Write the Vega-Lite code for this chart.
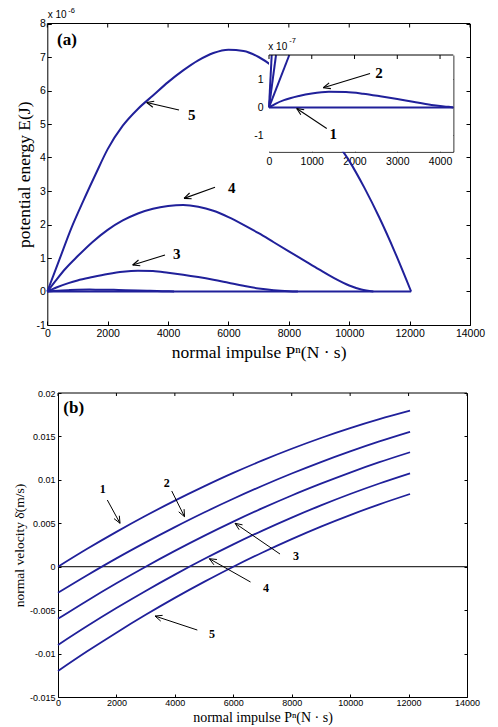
{
"$schema":"https://vega.github.io/schema/vega-lite/v6.json",
"width":498,"height":727,"autosize":"none","padding":0,
"config":{"view":{"stroke":null},
"axis":{"grid":false,"domainColor":"black","tickColor":"black","labelColor":"black","titleColor":"black","labelFont":"Liberation Sans","titleFont":"Liberation Serif","titleFontWeight":"normal","labelFlush":false,"labelOverlap":false,"zindex":1,"tickSize":-4,"labelPadding":7,"domainWidth":1,"tickWidth":1}},
"datasets":{
"topE":[
{"c":"5","P":0,"E":0},{"c":"5","P":400,"E":0.95},{"c":"5","P":800,"E":1.9},{"c":"5","P":1200,"E":2.72},{"c":"5","P":1600,"E":3.5},{"c":"5","P":2000,"E":4.25},{"c":"5","P":2500,"E":4.95},{"c":"5","P":3000,"E":5.45},{"c":"5","P":3500,"E":5.85},{"c":"5","P":4000,"E":6.25},{"c":"5","P":4500,"E":6.6},{"c":"5","P":5000,"E":6.9},{"c":"5","P":5500,"E":7.12},{"c":"5","P":6000,"E":7.22},{"c":"5","P":6500,"E":7.18},{"c":"5","P":7000,"E":7.0},{"c":"5","P":7500,"E":6.7},{"c":"5","P":8000,"E":6.3},{"c":"5","P":8500,"E":5.8},{"c":"5","P":9000,"E":5.2},{"c":"5","P":9500,"E":4.55},{"c":"5","P":10000,"E":3.9},{"c":"5","P":10500,"E":3.1},{"c":"5","P":11000,"E":2.2},{"c":"5","P":11500,"E":1.2},{"c":"5","P":12050,"E":0},
{"c":"4","P":0,"E":0},{"c":"4","P":300,"E":0.35},{"c":"4","P":600,"E":0.68},{"c":"4","P":1000,"E":1.05},{"c":"4","P":1500,"E":1.48},{"c":"4","P":2000,"E":1.84},{"c":"4","P":2500,"E":2.12},{"c":"4","P":3000,"E":2.33},{"c":"4","P":3500,"E":2.47},{"c":"4","P":4000,"E":2.55},{"c":"4","P":4500,"E":2.58},{"c":"4","P":5000,"E":2.53},{"c":"4","P":5500,"E":2.41},{"c":"4","P":6000,"E":2.22},{"c":"4","P":6500,"E":1.99},{"c":"4","P":7000,"E":1.74},{"c":"4","P":7500,"E":1.47},{"c":"4","P":8000,"E":1.2},{"c":"4","P":8500,"E":0.93},{"c":"4","P":9000,"E":0.66},{"c":"4","P":9500,"E":0.4},{"c":"4","P":10000,"E":0.18},{"c":"4","P":10400,"E":0.06},{"c":"4","P":10800,"E":0},
{"c":"3","P":0,"E":0},{"c":"3","P":300,"E":0.12},{"c":"3","P":700,"E":0.25},{"c":"3","P":1000,"E":0.33},{"c":"3","P":1500,"E":0.43},{"c":"3","P":2000,"E":0.52},{"c":"3","P":2500,"E":0.59},{"c":"3","P":3000,"E":0.62},{"c":"3","P":3500,"E":0.61},{"c":"3","P":4000,"E":0.56},{"c":"3","P":4500,"E":0.5},{"c":"3","P":5000,"E":0.43},{"c":"3","P":5500,"E":0.35},{"c":"3","P":6000,"E":0.26},{"c":"3","P":6500,"E":0.17},{"c":"3","P":7000,"E":0.09},{"c":"3","P":7500,"E":0.04},{"c":"3","P":8000,"E":0.01},{"c":"3","P":8300,"E":0},
{"c":"2","P":0,"E":0},{"c":"2","P":350,"E":0.026},{"c":"2","P":700,"E":0.041},{"c":"2","P":1000,"E":0.05},{"c":"2","P":1400,"E":0.056},{"c":"2","P":1800,"E":0.055},{"c":"2","P":2200,"E":0.049},{"c":"2","P":2600,"E":0.04},{"c":"2","P":3000,"E":0.03},{"c":"2","P":3400,"E":0.019},{"c":"2","P":3800,"E":0.009},{"c":"2","P":4200,"E":0.002},
{"c":"1","P":0,"E":0},{"c":"1","P":12050,"E":0}],
"topArrows":[
{"x":4362,"y":5.42,"x2":3293,"y2":5.64},{"x":3541,"y":5.68,"x2":3293,"y2":5.64},{"x":3495,"y":5.50,"x2":3293,"y2":5.64},
{"x":5555,"y":3.11,"x2":4529,"y2":2.78},{"x":4780,"y":2.77,"x2":4529,"y2":2.78},{"x":4713,"y":2.94,"x2":4529,"y2":2.78},
{"x":3898,"y":1.09,"x2":2829,"y2":0.79},{"x":3080,"y":0.77,"x2":2829,"y2":0.79},{"x":3021,"y":0.94,"x2":2829,"y2":0.79}],
"topNums":[{"P":4783,"E":5.27,"t":"5"},{"P":6108,"E":3.08,"t":"4"},{"P":4286,"E":1.12,"t":"3"}],
"panelA":[{"P":321,"E":7.36,"t":"(a)"}],
"topExpBase":[{"P":13,"E":8.155,"t":"x 10"}],
"topExpSup":[{"P":696,"E":8.32,"t":"-6"}],
"topFrame":[{"x":0,"x2":14000,"y":8}],
"topTicks":[{"x":0,"y":8},{"x":2000,"y":8},{"x":4000,"y":8},{"x":6000,"y":8},{"x":8000,"y":8},{"x":10000,"y":8},{"x":12000,"y":8},{"x":14000,"y":8}],
"insetBox":[{"x":0,"x2":4310,"y":-1.58,"y2":1.87}],
"insetFrame":[{"x":0,"x2":4310,"y":1.87}],
"insetTicks":[{"x":0,"y":1.87},{"x":1000,"y":1.87},{"x":2000,"y":1.87},{"x":3000,"y":1.87},{"x":4000,"y":1.87}],
"insetE":[
{"c":"1","P":0,"E":0},{"c":"1","P":4310,"E":0},
{"c":"2","P":0,"E":0},{"c":"2","P":150,"E":0.13},{"c":"2","P":350,"E":0.26},{"c":"2","P":700,"E":0.41},{"c":"2","P":1000,"E":0.5},{"c":"2","P":1400,"E":0.56},{"c":"2","P":1800,"E":0.55},{"c":"2","P":2200,"E":0.49},{"c":"2","P":2600,"E":0.4},{"c":"2","P":3000,"E":0.3},{"c":"2","P":3400,"E":0.19},{"c":"2","P":3800,"E":0.09},{"c":"2","P":4200,"E":0.02},{"c":"2","P":4310,"E":0},
{"c":"3","P":0,"E":0},{"c":"3","P":475,"E":1.87},
{"c":"4","P":0,"E":0},{"c":"4","P":164,"E":1.87},
{"c":"5","P":0,"E":0},{"c":"5","P":63,"E":1.87}],
"insetArrows":[
{"x":2363,"y":1.21,"x2":1270,"y2":0.70},{"x":1448,"y":0.67,"x2":1270,"y2":0.70},{"x":1406,"y":0.875,"x2":1270,"y2":0.70},
{"x":1350,"y":-0.75,"x2":648,"y2":-0.036},{"x":823,"y":-0.086,"x2":648,"y2":-0.036},{"x":744,"y":-0.264,"x2":648,"y2":-0.036}],
"insetNums":[{"P":2573,"E":1.21,"t":"2"},{"P":1504,"E":-0.96,"t":"1"}],
"insetExpBase":[{"P":-16,"E":2.05,"t":"x 10"}],
"insetExpSup":[{"P":475,"E":2.31,"t":"-7"}],
"botV":[
{"c":"1","P":0,"v":0},{"c":"1","P":1000,"v":0.00206},{"c":"1","P":2000,"v":0.00401},{"c":"1","P":3000,"v":0.00586},{"c":"1","P":4000,"v":0.00761},{"c":"1","P":5000,"v":0.00925},{"c":"1","P":6000,"v":0.0108},{"c":"1","P":7000,"v":0.01224},{"c":"1","P":8000,"v":0.01358},{"c":"1","P":9000,"v":0.01482},{"c":"1","P":10000,"v":0.01595},{"c":"1","P":11000,"v":0.01698},{"c":"1","P":12050,"v":0.01796},
{"c":"2","P":0,"v":-0.003},{"c":"2","P":1000,"v":-0.00098},{"c":"2","P":2000,"v":0.00096},{"c":"2","P":3000,"v":0.0028},{"c":"2","P":4000,"v":0.00456},{"c":"2","P":5000,"v":0.00624},{"c":"2","P":6000,"v":0.00782},{"c":"2","P":7000,"v":0.00932},{"c":"2","P":8000,"v":0.01073},{"c":"2","P":9000,"v":0.01205},{"c":"2","P":10000,"v":0.01328},{"c":"2","P":11000,"v":0.01443},{"c":"2","P":12050,"v":0.01554},
{"c":"3","P":0,"v":-0.006},{"c":"3","P":1000,"v":-0.00391},{"c":"3","P":2000,"v":-0.00191},{"c":"3","P":3000,"v":0},{"c":"3","P":4000,"v":0.00182},{"c":"3","P":5000,"v":0.00355},{"c":"3","P":6000,"v":0.00519},{"c":"3","P":7000,"v":0.00674},{"c":"3","P":8000,"v":0.0082},{"c":"3","P":9000,"v":0.00956},{"c":"3","P":10000,"v":0.01084},{"c":"3","P":11000,"v":0.01203},{"c":"3","P":12050,"v":0.01318},
{"c":"4","P":0,"v":-0.009},{"c":"4","P":1000,"v":-0.00683},{"c":"4","P":2000,"v":-0.00476},{"c":"4","P":3000,"v":-0.00279},{"c":"4","P":4000,"v":-0.00091},{"c":"4","P":5000,"v":0.00088},{"c":"4","P":6000,"v":0.00257},{"c":"4","P":7000,"v":0.00416},{"c":"4","P":8000,"v":0.00566},{"c":"4","P":9000,"v":0.00706},{"c":"4","P":10000,"v":0.00837},{"c":"4","P":11000,"v":0.00958},{"c":"4","P":12050,"v":0.01075},
{"c":"5","P":0,"v":-0.012},{"c":"5","P":1000,"v":-0.00974},{"c":"5","P":2000,"v":-0.00759},{"c":"5","P":3000,"v":-0.00554},{"c":"5","P":4000,"v":-0.00359},{"c":"5","P":5000,"v":-0.00175},{"c":"5","P":6000,"v":0},{"c":"5","P":7000,"v":0.00164},{"c":"5","P":8000,"v":0.00318},{"c":"5","P":9000,"v":0.00462},{"c":"5","P":10000,"v":0.00595},{"c":"5","P":11000,"v":0.00718},{"c":"5","P":12050,"v":0.00837}],
"botZero":[{"x":0,"x2":14000,"y":0,"y2":0}],
"botFrame":[{"x":0,"x2":14000,"y":0.02}],
"botTicks":[{"x":0,"y":0.02},{"x":2000,"y":0.02},{"x":4000,"y":0.02},{"x":6000,"y":0.02},{"x":8000,"y":0.02},{"x":10000,"y":0.02},{"x":12000,"y":0.02},{"x":14000,"y":0.02}],
"botArrows":[
{"x":1688,"y":0.00768,"x2":2123,"y2":0.0050},{"x":2099,"y":0.00587,"x2":2123,"y2":0.0050},{"x":1917,"y":0.00554,"x2":2123,"y2":0.0050},
{"x":3893,"y":0.00872,"x2":4331,"y2":0.00576},{"x":4316,"y":0.00663,"x2":4331,"y2":0.00576},{"x":4132,"y":0.00632,"x2":4331,"y2":0.00576},
{"x":7600,"y":0.00146,"x2":6060,"y2":0.0050},{"x":6316,"y":0.00482,"x2":6060,"y2":0.0050},{"x":6200,"y":0.00426,"x2":6060,"y2":0.0050},
{"x":6590,"y":-0.00176,"x2":5180,"y2":0.00092},{"x":5440,"y":0.00083,"x2":5180,"y2":0.00092},{"x":5337,"y":0.00022,"x2":5180,"y2":0.00092},
{"x":4769,"y":-0.00729,"x2":3321,"y2":-0.00568},{"x":3581,"y":-0.0056,"x2":3321,"y2":-0.00568},{"x":3516,"y":-0.00626,"x2":3321,"y2":-0.00568}],
"botNums":[{"P":1530,"v":0.00891,"t":"1"},{"P":3721,"v":0.0096,"t":"2"},{"P":8148,"v":0.00123,"t":"3"},{"P":7121,"v":-0.00249,"t":"4"},{"P":5272,"v":-0.00778,"t":"5"}],
"panelB":[{"P":181,"v":0.0177,"t":"(b)"}]
},
"layer":[
 {"data":{"name":"topE"},"mark":{"type":"line","color":"#20209a","strokeWidth":2,"interpolate":"monotone"},
  "encoding":{"x":{"field":"P","type":"quantitative","scale":{"domain":[0,14000],"range":[47.3,470],"nice":false,"zero":false},
    "axis":{"orient":"bottom","offset":-402,"values":[0,2000,4000,6000,8000,10000,12000,14000],"labelExpr":"replace(format(datum.value, '~g'), '−', '-')","labelFontSize":10.5,"title":"normal impulse Pⁿ(N · s)","titleFontSize":17.5,"titlePadding":5}},
   "y":{"field":"E","type":"quantitative","scale":{"domain":[-1,8],"range":[325,23.5],"nice":false,"zero":false},
    "axis":{"orient":"left","offset":-47.3,"values":[-1,0,1,2,3,4,5,6,7,8],"labelExpr":"replace(format(datum.value, '~g'), '−', '-')","labelFontSize":10.5,"labelPadding":6,"title":"potential energy E(J)","titleFontSize":17.5,"titlePadding":2}},
   "detail":{"field":"c"}}},
 {"data":{"name":"topArrows"},"mark":{"type":"rule","color":"black","strokeWidth":1.1},
  "encoding":{"x":{"field":"x","type":"quantitative","scale":{"domain":[0,14000],"range":[47.3,470],"nice":false,"zero":false},"axis":null},
   "y":{"field":"y","type":"quantitative","scale":{"domain":[-1,8],"range":[325,23.5],"nice":false,"zero":false},"axis":null},
   "x2":{"field":"x2"},"y2":{"field":"y2"}}},
 {"data":{"name":"topNums"},"mark":{"type":"text","font":"Liberation Serif","fontWeight":"bold","fontSize":15,"color":"black"},
  "encoding":{"x":{"field":"P","type":"quantitative","scale":{"domain":[0,14000],"range":[47.3,470],"nice":false,"zero":false},"axis":null},
   "y":{"field":"E","type":"quantitative","scale":{"domain":[-1,8],"range":[325,23.5],"nice":false,"zero":false},"axis":null},
   "text":{"field":"t"}}},
 {"data":{"name":"panelA"},"mark":{"type":"text","font":"Liberation Serif","fontWeight":"bold","fontSize":17,"color":"black","align":"left","baseline":"alphabetic"},
  "encoding":{"x":{"field":"P","type":"quantitative","scale":{"domain":[0,14000],"range":[47.3,470],"nice":false,"zero":false},"axis":null},
   "y":{"field":"E","type":"quantitative","scale":{"domain":[-1,8],"range":[325,23.5],"nice":false,"zero":false},"axis":null},
   "text":{"field":"t"}}},
 {"data":{"name":"topExpBase"},"mark":{"type":"text","font":"Liberation Sans","fontSize":10,"color":"black","align":"left","baseline":"alphabetic"},
  "encoding":{"x":{"field":"P","type":"quantitative","scale":{"domain":[0,14000],"range":[47.3,470],"nice":false,"zero":false},"axis":null},
   "y":{"field":"E","type":"quantitative","scale":{"domain":[-1,8],"range":[325,23.5],"nice":false,"zero":false},"axis":null},
   "text":{"field":"t"}}},
 {"data":{"name":"topExpSup"},"mark":{"type":"text","font":"Liberation Sans","fontSize":7.5,"color":"black","align":"left","baseline":"alphabetic"},
  "encoding":{"x":{"field":"P","type":"quantitative","scale":{"domain":[0,14000],"range":[47.3,470],"nice":false,"zero":false},"axis":null},
   "y":{"field":"E","type":"quantitative","scale":{"domain":[-1,8],"range":[325,23.5],"nice":false,"zero":false},"axis":null},
   "text":{"field":"t"}}},
 {"data":{"name":"topFrame"},"mark":{"type":"rule","color":"black","strokeWidth":1},
  "encoding":{"x":{"field":"x","type":"quantitative","scale":{"domain":[0,14000],"range":[47.3,470],"nice":false,"zero":false},"axis":null},
   "y":{"field":"y","type":"quantitative","scale":{"domain":[-1,8],"range":[325,23.5],"nice":false,"zero":false},"axis":null},
   "x2":{"field":"x2"}}},
 {"data":{"name":"topTicks"},"mark":{"type":"tick","orient":"vertical","size":4,"thickness":1,"color":"black","opacity":1,"yOffset":2},
  "encoding":{"x":{"field":"x","type":"quantitative","scale":{"domain":[0,14000],"range":[47.3,470],"nice":false,"zero":false},"axis":null},
   "y":{"field":"y","type":"quantitative","scale":{"domain":[-1,8],"range":[325,23.5],"nice":false,"zero":false},
    "axis":{"orient":"right","offset":-28,"values":[-1,0,1,2,3,4,5,6,7,8],"labels":false,"title":null}}}},
 {"data":{"name":"insetBox"},"mark":{"type":"rect","color":"white","opacity":1},
  "encoding":{"x":{"field":"x","type":"quantitative","scale":{"domain":[0,4310],"range":[269,453.3],"nice":false,"zero":false},
    "axis":{"orient":"bottom","offset":-575.3,"values":[0,1000,2000,3000,4000],"labelExpr":"replace(format(datum.value, '~g'), '−', '-')","labelFontSize":10.5,"labelPadding":9,"title":null}},
   "y":{"field":"y","type":"quantitative","scale":{"domain":[-1.58,1.87],"range":[151.7,55],"nice":false,"zero":false},
    "axis":{"orient":"left","offset":-269,"values":[-1,0,1],"labelExpr":"replace(format(datum.value, '~g'), '−', '-')","labelFontSize":10.5,"labelPadding":10,"title":null}},
   "x2":{"field":"x2"},"y2":{"field":"y2"}}},
 {"data":{"name":"insetE"},"mark":{"type":"line","color":"#20209a","strokeWidth":2,"interpolate":"monotone"},
  "encoding":{"x":{"field":"P","type":"quantitative","scale":{"domain":[0,4310],"range":[269,453.3],"nice":false,"zero":false},"axis":null},
   "y":{"field":"E","type":"quantitative","scale":{"domain":[-1.58,1.87],"range":[151.7,55],"nice":false,"zero":false},"axis":null},
   "detail":{"field":"c"}}},
 {"data":{"name":"insetArrows"},"mark":{"type":"rule","color":"black","strokeWidth":1.1},
  "encoding":{"x":{"field":"x","type":"quantitative","scale":{"domain":[0,4310],"range":[269,453.3],"nice":false,"zero":false},"axis":null},
   "y":{"field":"y","type":"quantitative","scale":{"domain":[-1.58,1.87],"range":[151.7,55],"nice":false,"zero":false},"axis":null},
   "x2":{"field":"x2"},"y2":{"field":"y2"}}},
 {"data":{"name":"insetNums"},"mark":{"type":"text","font":"Liberation Serif","fontWeight":"bold","fontSize":15,"color":"black"},
  "encoding":{"x":{"field":"P","type":"quantitative","scale":{"domain":[0,4310],"range":[269,453.3],"nice":false,"zero":false},"axis":null},
   "y":{"field":"E","type":"quantitative","scale":{"domain":[-1.58,1.87],"range":[151.7,55],"nice":false,"zero":false},"axis":null},
   "text":{"field":"t"}}},
 {"data":{"name":"insetExpBase"},"mark":{"type":"text","font":"Liberation Sans","fontSize":10,"color":"black","align":"left","baseline":"alphabetic"},
  "encoding":{"x":{"field":"P","type":"quantitative","scale":{"domain":[0,4310],"range":[269,453.3],"nice":false,"zero":false},"axis":null},
   "y":{"field":"E","type":"quantitative","scale":{"domain":[-1.58,1.87],"range":[151.7,55],"nice":false,"zero":false},"axis":null},
   "text":{"field":"t"}}},
 {"data":{"name":"insetExpSup"},"mark":{"type":"text","font":"Liberation Sans","fontSize":7.5,"color":"black","align":"left","baseline":"alphabetic"},
  "encoding":{"x":{"field":"P","type":"quantitative","scale":{"domain":[0,4310],"range":[269,453.3],"nice":false,"zero":false},"axis":null},
   "y":{"field":"E","type":"quantitative","scale":{"domain":[-1.58,1.87],"range":[151.7,55],"nice":false,"zero":false},"axis":null},
   "text":{"field":"t"}}},
 {"data":{"name":"insetFrame"},"mark":{"type":"rule","color":"black","strokeWidth":1},
  "encoding":{"x":{"field":"x","type":"quantitative","scale":{"domain":[0,4310],"range":[269,453.3],"nice":false,"zero":false},"axis":null},
   "y":{"field":"y","type":"quantitative","scale":{"domain":[-1.58,1.87],"range":[151.7,55],"nice":false,"zero":false},"axis":null},
   "x2":{"field":"x2"}}},
 {"data":{"name":"insetTicks"},"mark":{"type":"tick","orient":"vertical","size":4,"thickness":1,"color":"black","opacity":1,"yOffset":2},
  "encoding":{"x":{"field":"x","type":"quantitative","scale":{"domain":[0,4310],"range":[269,453.3],"nice":false,"zero":false},"axis":null},
   "y":{"field":"y","type":"quantitative","scale":{"domain":[-1.58,1.87],"range":[151.7,55],"nice":false,"zero":false},
    "axis":{"orient":"right","offset":-44.7,"values":[-1,0,1],"labels":false,"title":null}}}},
 {"data":{"name":"botZero"},"mark":{"type":"rule","color":"black","strokeWidth":1},
  "encoding":{"x":{"field":"x","type":"quantitative","scale":{"domain":[0,14000],"range":[58,467],"nice":false,"zero":false},
    "axis":{"orient":"bottom","offset":-30,"values":[0,2000,4000,6000,8000,10000,12000,14000],"labelExpr":"replace(format(datum.value, '~g'), '−', '-')","labelFontSize":9,"tickSize":-3,"labelPadding":4,"title":"normal impulse Pⁿ(N · s)","titleFontSize":14,"titlePadding":3}},
   "y":{"field":"y","type":"quantitative","scale":{"domain":[-0.015,0.02],"range":[697,393],"nice":false,"zero":false},
    "axis":{"orient":"left","offset":-58,"values":[-0.015,-0.01,-0.005,0,0.005,0.01,0.015,0.02],"labelExpr":"replace(format(datum.value, '~g'), '−', '-')","labelFontSize":9,"tickSize":-3,"labelPadding":6,"title":"normal velocity δ̇(m/s)","titleFontSize":13.5,"titlePadding":3}},
   "x2":{"field":"x2"},"y2":{"field":"y2"}}},
 {"data":{"name":"botV"},"mark":{"type":"line","color":"#20209a","strokeWidth":1.8,"interpolate":"monotone"},
  "encoding":{"x":{"field":"P","type":"quantitative","scale":{"domain":[0,14000],"range":[58,467],"nice":false,"zero":false},"axis":null},
   "y":{"field":"v","type":"quantitative","scale":{"domain":[-0.015,0.02],"range":[697,393],"nice":false,"zero":false},"axis":null},
   "detail":{"field":"c"}}},
 {"data":{"name":"botArrows"},"mark":{"type":"rule","color":"black","strokeWidth":1},
  "encoding":{"x":{"field":"x","type":"quantitative","scale":{"domain":[0,14000],"range":[58,467],"nice":false,"zero":false},"axis":null},
   "y":{"field":"y","type":"quantitative","scale":{"domain":[-0.015,0.02],"range":[697,393],"nice":false,"zero":false},"axis":null},
   "x2":{"field":"x2"},"y2":{"field":"y2"}}},
 {"data":{"name":"botNums"},"mark":{"type":"text","font":"Liberation Serif","fontWeight":"bold","fontSize":12,"color":"black"},
  "encoding":{"x":{"field":"P","type":"quantitative","scale":{"domain":[0,14000],"range":[58,467],"nice":false,"zero":false},"axis":null},
   "y":{"field":"v","type":"quantitative","scale":{"domain":[-0.015,0.02],"range":[697,393],"nice":false,"zero":false},"axis":null},
   "text":{"field":"t"}}},
 {"data":{"name":"panelB"},"mark":{"type":"text","font":"Liberation Serif","fontWeight":"bold","fontSize":17,"color":"black","align":"left","baseline":"alphabetic"},
  "encoding":{"x":{"field":"P","type":"quantitative","scale":{"domain":[0,14000],"range":[58,467],"nice":false,"zero":false},"axis":null},
   "y":{"field":"v","type":"quantitative","scale":{"domain":[-0.015,0.02],"range":[697,393],"nice":false,"zero":false},"axis":null},
   "text":{"field":"t"}}},
 {"data":{"name":"botFrame"},"mark":{"type":"rule","color":"black","strokeWidth":1},
  "encoding":{"x":{"field":"x","type":"quantitative","scale":{"domain":[0,14000],"range":[58,467],"nice":false,"zero":false},"axis":null},
   "y":{"field":"y","type":"quantitative","scale":{"domain":[-0.015,0.02],"range":[697,393],"nice":false,"zero":false},"axis":null},
   "x2":{"field":"x2"}}},
 {"data":{"name":"botTicks"},"mark":{"type":"tick","orient":"vertical","size":3,"thickness":1,"color":"black","opacity":1,"yOffset":1.5},
  "encoding":{"x":{"field":"x","type":"quantitative","scale":{"domain":[0,14000],"range":[58,467],"nice":false,"zero":false},"axis":null},
   "y":{"field":"y","type":"quantitative","scale":{"domain":[-0.015,0.02],"range":[697,393],"nice":false,"zero":false},
    "axis":{"orient":"right","offset":-31,"values":[-0.015,-0.01,-0.005,0,0.005,0.01,0.015,0.02],"labels":false,"title":null,"tickSize":-3}}}}
],
"resolve":{"scale":{"x":"independent","y":"independent"},"axis":{"x":"independent","y":"independent"}}
}
